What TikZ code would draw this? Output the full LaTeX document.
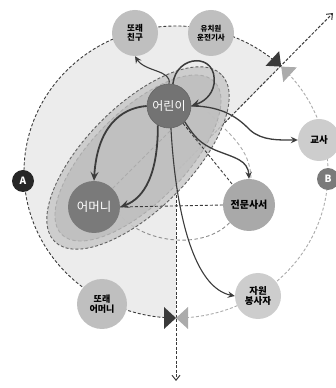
\documentclass[tikz,border=0pt]{standalone}
\usepackage{fontspec}
\setmainfont{Noto Sans CJK KR}
\usetikzlibrary{arrows.meta}
\definecolor{secfill}{HTML}{ECECEC}
\definecolor{dk}{HTML}{3A3A3A}
\definecolor{lt}{HTML}{ABABAB}
\definecolor{gy}{HTML}{8E8E8E}
\definecolor{ar}{HTML}{3C3C3C}
\definecolor{ellout}{HTML}{C8C8C8}
\definecolor{ellin}{HTML}{BEBEBE}
\definecolor{kidc}{HTML}{737373}
\definecolor{momc}{HTML}{7A7A7A}
\definecolor{libc}{HTML}{A9A9A9}
\definecolor{pmc}{HTML}{BFBFBF}
\definecolor{volc}{HTML}{CDCDCD}
\definecolor{bc}{HTML}{7A7A7A}
\begin{document}
\begin{tikzpicture}[x=1pt,y=1pt,
  nd/.style={circle,inner sep=0pt,align=center,text=black},
  lab/.style={font=\bfseries\fontsize{8.5}{9.5}\selectfont},
  darkdash/.style={draw=dk,line width=0.9pt,dash pattern=on 3pt off 2pt},
  lightdash/.style={draw=lt,line width=0.9pt,dash pattern=on 3pt off 2pt},
  graydash/.style={draw=gy,line width=0.9pt,dash pattern=on 3.5pt off 2.5pt},
  axisline/.style={draw=dk,line width=1pt,dash pattern=on 3pt off 1.6pt,-{Straight Barb[length=5pt,width=8pt]}},
  arr/.style={draw=ar,line width=1.8pt,-{Stealth[length=9pt,width=8pt,inset=3.5pt]}},
  thinarr/.style={draw=ar,line width=1.1pt,-{Stealth[length=7pt,width=6.5pt,inset=2.5pt]}},
  tri/.style={fill=dk},
  trilt/.style={fill=lt}
]
\useasboundingbox (0,0) rectangle (336,388);
% sector fill
\fill[secfill] (176,216) -- (281.2,321.4) arc[start angle=46.2,end angle=270,x radius=152,y radius=146] -- cycle;
% big ellipse arcs
\draw[darkdash] (281.2,321.4) arc[start angle=46.2,end angle=270,x radius=152,y radius=146];
\draw[lightdash] (176,70) arc[start angle=270,end angle=406.2,x radius=152,y radius=146];
% inner dashed arcs
\draw[graydash] (115,180) .. controls (135,145) and (205,135) .. (232,168);
\draw[graydash,draw=lt] (208,276) .. controls (228,255) and (250,240) .. (251,210);
% axes
\coordinate (C) at (176,216);
\coordinate (TR) at (333,375);
\coordinate (BT) at (176,7);
\draw[axisline] (C) -- (TR);
\draw[axisline] (C) -- (BT);
% ellipse
\begin{scope}[shift={(138,230)},rotate=45]
\fill[ellout,fill opacity=0.85] (0,0) ellipse[x radius=118,y radius=52];
\draw[darkdash,draw=dk!80] (0,0) ellipse[x radius=118,y radius=52];
\fill[ellin,fill opacity=0.85] (0,0) ellipse[x radius=108,y radius=46];
\draw[graydash,draw=lt] (0,0) ellipse[x radius=108,y radius=46];
\end{scope}
% bowties
\begin{scope}[shift={(176,70)}]
\fill[tri] (0,0) -- (-12,11) -- (-12,-11) -- cycle;
\fill[trilt] (0,0) -- (12,11) -- (12,-11) -- cycle;
\end{scope}
\begin{scope}[shift={(281.2,321.4)},rotate=-42.6]
\fill[tri] (0,0) -- (-12,10) -- (-12,-10) -- cycle;
\end{scope}
\begin{scope}[shift={(281.2,321.4)},rotate=137.4]
\fill[trilt] (0,0) -- (-12,10) -- (-12,-10) -- cycle;
\end{scope}
% nodes
\node[nd,fill=kidc,draw=black!60,line width=0.6pt,minimum size=44pt,text=white,font=\fontsize{12}{12}\selectfont] (kid) at (169,282) {어린이};
\node[nd,fill=momc,minimum size=52pt,text=white,font=\fontsize{12.5}{12}\selectfont] (mom) at (94,181) {어머니};
\node[nd,fill=libc,minimum size=52pt,font=\bfseries\fontsize{10}{11}\selectfont] (lib) at (249,183) {전문사서};
\node[nd,fill=volc,minimum size=46pt,font=\bfseries\fontsize{9.5}{10.5}\selectfont] (vol) at (258,92) {자원\\봉사자};
\node[nd,fill=pmc,minimum size=50pt,font=\bfseries\fontsize{9}{10}\selectfont] (pmom) at (102,84) {또래\\어머니};
\node[nd,fill=volc,minimum size=42pt,font=\bfseries\fontsize{9.5}{10}\selectfont] (teacher) at (319,248) {교사};
\node[nd,fill=pmc,minimum size=46pt,lab] (friend) at (135,355) {또래\\친구};
\node[nd,fill=pmc,minimum size=46pt,font=\bfseries\fontsize{7.5}{8.5}\selectfont] (driver) at (211,355) {유치원\\운전기사};
\node[nd,fill=black!85,minimum size=22pt,text=white,font=\bfseries\fontsize{10}{10}\selectfont] (A) at (23,207) {A};
\node[nd,fill=bc,minimum size=22pt,text=white,font=\bfseries\fontsize{10}{10}\selectfont] (B) at (328,209) {B};
% dashed connectors
\draw[graydash,draw=lt] (mom.45) -- (171,258);
\draw[darkdash] (kid) -- (lib);
\draw[darkdash] (lib.west) -- (mom.east);
% arrows
\draw[thinarr] (kid.north) .. controls (172,318) and (145,316) .. (friend.south);
\draw[arr,line width=1.5pt] (kid.80) .. controls (176,334) and (218,336) .. (214,304) .. controls (212,292) and (203,286) .. (kid.east);
\draw[thinarr,line width=1.3pt] (kid.east) .. controls (225,282) and (240,268) .. (250,258) .. controls (262,247) and (280,248) .. (teacher.west);
\draw[thinarr,line width=1.3pt] (kid.-45) .. controls (195,250) and (200,245) .. (215,238) .. controls (235,230) and (248,228) .. (lib.north);
\draw[thinarr] (kid.-85) .. controls (176,170) and (195,100) .. (vol.west);
\draw[arr] (kid.west) .. controls (120,280) and (97,260) .. (mom.north);
\draw[arr] (kid.-120) .. controls (158,215) and (145,190) .. (mom.east);
\end{tikzpicture}
\end{document}
